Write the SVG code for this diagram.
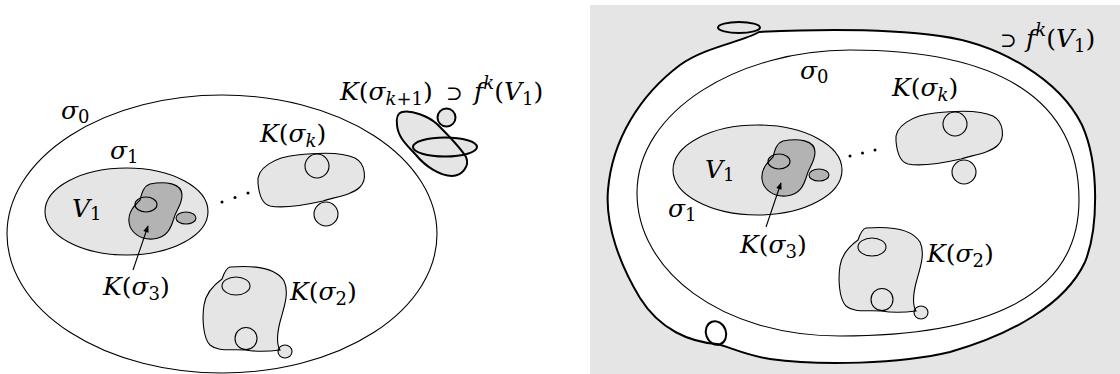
<svg xmlns="http://www.w3.org/2000/svg" width="1120" height="374" viewBox="0 0 1120 374">
<style>
.ln{fill:none;stroke:#000;stroke-width:1.1}
.lg{fill:#e5e5e5;stroke:#000;stroke-width:1.1}
.lgf{fill:#e5e5e5;stroke:none}
.dg{fill:#b3b3b3;stroke:#000;stroke-width:1.1}
.dgf{fill:#b3b3b3;stroke:none}
.tk{fill:none;stroke:#000;stroke-width:2}
.tkg{fill:#e5e5e5;stroke:#000;stroke-width:2}
.t{font-family:'DejaVu Serif',serif;font-size:25px;fill:#000}
.i{font-style:italic}
.s{font-size:18px}
.sym{font-family:'DejaVu Serif',serif;font-size:20px;font-style:normal}
.conn{fill:none;stroke:#000;stroke-width:1.1}
</style>
<defs>
<marker id="ah" viewBox="0 0 10 10" refX="9" refY="5" markerWidth="8" markerHeight="7" orient="auto" markerUnits="userSpaceOnUse">
<path d="M0,1 L10,5 L0,9 Z" fill="#000"/>
</marker>
<g id="sh-k3">
<ellipse class="dgf" cx="186" cy="218" rx="10" ry="6"/>
<path class="dg" d="M 150,184 C 165,181 182,183 182,195 C 182,205 176,210 174,218 C 171,228 167,238 153,239 C 140,240 130,232 129,222 C 128,212 134,206 140,200 C 142,192 144,186 150,184 Z"/>
<ellipse class="ln" cx="146" cy="204.5" rx="11" ry="7.5"/>
<ellipse class="ln" cx="186" cy="218" rx="10" ry="6"/>
</g>
<g id="sh-kk">
<circle class="lgf" cx="326" cy="214" r="12"/>
<path class="lg" d="M 258,183 C 256,168 275,157 297,155 C 315,153 340,151 355,158 C 366,164 367,180 360,187 C 352,195 335,197 323,201 C 305,205 285,209 270,206 C 262,204 259,195 258,183 Z"/>
<circle class="ln" cx="317" cy="166" r="12"/>
<circle class="ln" cx="326" cy="214" r="12"/>
</g>
<g id="sh-k2">
<ellipse class="lgf" cx="285" cy="351.5" rx="7" ry="6.5"/>
<path class="lg" d="M 230,267 C 255,265 276,268 284,281 C 290,293 283,310 280,322 C 277,334 277,345 280,350 C 272,351 258,352 245,350 C 230,349 218,352 210,345 C 203,338 202,318 204,305 C 206,292 215,284 222,279 C 224,273 226,268 230,267 Z"/>
<ellipse class="ln" cx="236" cy="286" rx="14" ry="9"/>
<circle class="ln" cx="246" cy="338.5" r="11"/>
<ellipse class="ln" cx="285" cy="351.5" rx="7" ry="6.5"/>
</g>
</defs>

<rect x="0" y="0" width="1120" height="374" fill="#fff"/>

<!-- LEFT PANEL -->
<g id="sigma0-left">
<ellipse class="ln" cx="222" cy="234" rx="215" ry="139"/>
<text class="t" x="61" y="119"><tspan class="i">σ</tspan><tspan class="s" dy="4">0</tspan></text>
</g>
<g id="sigma1-left">
<ellipse class="lg" cx="126.5" cy="211.5" rx="81.5" ry="43.5"/>
<text class="t" x="110" y="159"><tspan class="i">σ</tspan><tspan class="s" dy="4">1</tspan></text>
<text class="t" x="72" y="217"><tspan class="i">V</tspan><tspan class="s" dy="3">1</tspan></text>
</g>
<g id="K3-left">
<use href="#sh-k3"/>
<text class="t" x="103" y="295"><tspan class="i">K</tspan>(<tspan class="i">σ</tspan><tspan class="s" dy="5">3</tspan><tspan dy="-5">)</tspan></text>
</g>
<g id="dots-left">
<circle cx="222" cy="202" r="1.5"/><circle cx="235" cy="197.5" r="1.5"/><circle cx="248" cy="193" r="1.5"/>
</g>
<g id="Kk-left">
<use href="#sh-kk"/>
<text class="t" x="260" y="142"><tspan class="i">K</tspan>(<tspan class="i">σ</tspan><tspan class="s i" dy="5">k</tspan><tspan dy="-5">)</tspan></text>
</g>
<g id="K2-left">
<use href="#sh-k2"/>
<text class="t" x="290" y="300"><tspan class="i">K</tspan>(<tspan class="i">σ</tspan><tspan class="s" dy="5">2</tspan><tspan dy="-5">)</tspan></text>
</g>
<g id="Kk1-left">
<ellipse class="lgf" cx="445" cy="147" rx="32" ry="9.5"/>
<circle class="lgf" cx="446.5" cy="117.5" r="9"/>
<path class="tkg" d="M 402,112 C 412,110 428,116 437,124 C 448,135 460,147 466,157 C 470,166 462,176 452,176 C 440,176 425,166 416,155 C 408,146 398,138 397,125 C 396,118 398,113 402,112 Z"/>
<ellipse class="tk" cx="445" cy="147" rx="32" ry="9.5"/>
<circle class="tk" cx="446.5" cy="117.5" r="9"/>
<text class="t" x="340" y="100"><tspan class="i">K</tspan>(<tspan class="i">σ</tspan><tspan class="s" dy="5"><tspan class="i">k</tspan>+1</tspan><tspan dy="-5">)</tspan><tspan class="sym" x="446">⊃</tspan><tspan class="i" x="474">f</tspan><tspan class="s i" dy="-11">k</tspan><tspan dy="11">(</tspan><tspan class="i">V</tspan><tspan class="s" dy="5">1</tspan><tspan dy="-5">)</tspan></text>
</g>

<!-- RIGHT PANEL -->
<g id="panel-right">
<rect x="590" y="5" width="530" height="369" fill="#e5e5e5"/>
</g>
<g id="fkV1-right">
<path d="M 759,32 C 800,30 880,28 940,36 C 1000,44 1060,80 1082,125 C 1100,165 1098,230 1085,262 C 1065,305 1010,335 950,352 C 900,364 820,366 770,359 C 745,355 730,347 717,344 C 690,342 660,330 640,298 C 620,265 605,225 608,190 C 612,140 640,95 680,65 C 705,47 742,42 759,32 Z" fill="#fff" stroke="#000" stroke-width="2"/>
<ellipse class="tk" cx="739" cy="27.5" rx="21" ry="5.5"/>
<ellipse class="tk" cx="716" cy="333" rx="10" ry="12" transform="rotate(-20 716 333)"/>
<text class="t" y="47"><tspan class="sym" x="1000">⊃</tspan><tspan class="i" x="1026">f</tspan><tspan class="s i" dy="-11">k</tspan><tspan dy="11">(</tspan><tspan class="i">V</tspan><tspan class="s" dy="5">1</tspan><tspan dy="-5">)</tspan></text>
</g>
<g id="sigma0-right">
<path class="ln" d="M 637,193 C 637,110 740,50 850,50 C 1000,50 1079,100 1079,200 C 1079,300 980,336 840,336 C 720,336 637,270 637,193 Z"/>
<text class="t" x="800" y="79"><tspan class="i">σ</tspan><tspan class="s" dy="4">0</tspan></text>
</g>
<g id="sigma1-right">
<ellipse class="lg" cx="757.5" cy="170" rx="84.5" ry="45"/>
<text class="t" x="668" y="217"><tspan class="i">σ</tspan><tspan class="s" dy="4">1</tspan></text>
<text class="t" x="705" y="178"><tspan class="i">V</tspan><tspan class="s" dy="3">1</tspan></text>
</g>
<g id="K3-right">
<use href="#sh-k3" transform="translate(633,-43)"/>
<text class="t" x="740" y="253"><tspan class="i">K</tspan>(<tspan class="i">σ</tspan><tspan class="s" dy="5">3</tspan><tspan dy="-5">)</tspan></text>
</g>
<g id="dots-right">
<circle cx="850" cy="156" r="1.5"/><circle cx="862.5" cy="153" r="1.5"/><circle cx="875" cy="150" r="1.5"/>
</g>
<g id="Kk-right">
<use href="#sh-kk" transform="translate(638,-42)"/>
<text class="t" x="892" y="96"><tspan class="i">K</tspan>(<tspan class="i">σ</tspan><tspan class="s i" dy="5">k</tspan><tspan dy="-5">)</tspan></text>
</g>
<g id="K2-right">
<use href="#sh-k2" transform="translate(636,-39)"/>
<text class="t" x="927" y="262"><tspan class="i">K</tspan>(<tspan class="i">σ</tspan><tspan class="s" dy="5">2</tspan><tspan dy="-5">)</tspan></text>
</g>

<g id="connectors">
<line class="conn" x1="133" y1="270" x2="148" y2="226" marker-end="url(#ah)"/>
<line class="conn" x1="766" y1="227" x2="781" y2="183" marker-end="url(#ah)"/>
</g>
</svg>
